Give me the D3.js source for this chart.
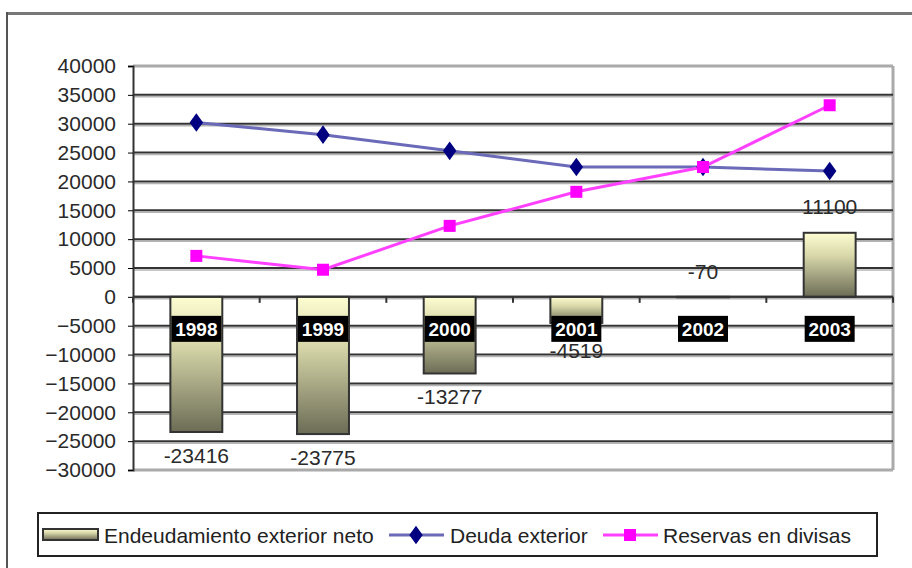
<!DOCTYPE html>
<html lang="es">
<head>
<meta charset="UTF-8">
<title>Endeudamiento exterior</title>
<script src="https://d3js.org/d3.v7.min.js"></script>
<style>
    body { margin: 0; padding: 0; background: #fff; overflow: hidden; }
    svg { display: block; font-family: "Liberation Sans", Arial, sans-serif; }
    .ytick text { font-size: 21px; fill: #2a2a2a; }
    .dlabel { font-size: 21px; fill: #2a2a2a; }
    .yearlbl { font-size: 19px; font-weight: bold; fill: #fff; }
    .legtxt { font-size: 21px; fill: #222; }
</style>
</head>
<body>
<div id="chart"></div>
<script>
    // Datos
    const years = ["1998", "1999", "2000", "2001", "2002", "2003"];
    const endeudamiento = [-23416, -23775, -13277, -4519, -70, 11100];
    const deuda = [30200, 28100, 25300, 22500, 22500, 21800];
    const reservas = [7100, 4700, 12300, 18200, 22500, 33200];
    const yTicks = d3.range(-30000, 40001, 5000);

    const W = 912, H = 568;
    const plot = {left: 133, right: 893, top: 66, bottom: 470};

    const svg = d3.select("#chart").append("svg")
        .attr("width", W).attr("height", H);

    // Gradiente de las barras
    const defs = svg.append("defs");
    const grad = defs.append("linearGradient").attr("id", "barGrad")
        .attr("x1", 0).attr("y1", 0).attr("x2", 0).attr("y2", 1);
    grad.append("stop").attr("offset", "0%").attr("stop-color", "#fdfdd2");
    grad.append("stop").attr("offset", "35%").attr("stop-color", "#d8d8aa");
    grad.append("stop").attr("offset", "100%").attr("stop-color", "#6c6c56");

    // Marco exterior
    svg.append("line").attr("x1", 6).attr("x2", W).attr("y1", 13.5).attr("y2", 13.5)
        .attr("stroke", "#777").attr("stroke-width", 3);
    svg.append("line").attr("x1", 7).attr("x2", 7).attr("y1", 12).attr("y2", H)
        .attr("stroke", "#555").attr("stroke-width", 2);

    // Escalas
    const x = d3.scaleBand().domain(years)
        .range([plot.left, plot.right])
        .paddingInner(0.59).paddingOuter(0.295);
    const y = d3.scaleLinear().domain([-30000, 40000])
        .range([plot.bottom, plot.top]);

    const g = svg.append("g");

    // Borde del área de trazado
    g.append("line").attr("x1", plot.left).attr("x2", plot.right)
        .attr("y1", plot.top).attr("y2", plot.top)
        .attr("stroke", "#aaa").attr("stroke-width", 3);
    g.append("line").attr("x1", plot.right).attr("x2", plot.right)
        .attr("y1", plot.top).attr("y2", plot.bottom)
        .attr("stroke", "#aaa").attr("stroke-width", 3);
    g.append("line").attr("x1", plot.left).attr("x2", plot.right)
        .attr("y1", plot.bottom).attr("y2", plot.bottom)
        .attr("stroke", "#aaa").attr("stroke-width", 3);

    // Cuadrícula
    const gridVals = yTicks.filter(v => v > -30000 && v < 40000);
    g.selectAll(".gshade").data(gridVals).enter().append("line")
        .attr("x1", plot.left).attr("x2", plot.right)
        .attr("y1", d => y(d) + 2).attr("y2", d => y(d) + 2)
        .attr("stroke", "#b4b4b4").attr("stroke-width", 1.5);
    g.selectAll(".gline").data(gridVals).enter().append("line")
        .attr("x1", plot.left).attr("x2", plot.right)
        .attr("y1", d => y(d)).attr("y2", d => y(d))
        .attr("stroke", "#333").attr("stroke-width", 2);

    // Eje Y
    const yAxis = g.append("g")
        .attr("transform", `translate(${plot.left},0)`)
        .call(d3.axisLeft(y).tickValues(yTicks).tickSize(5).tickPadding(12).tickFormat(d3.format("d")));
    yAxis.select(".domain").attr("stroke", "#333").attr("stroke-width", 2);
    yAxis.selectAll(".tick").attr("class", "ytick");
    yAxis.selectAll(".tick line").attr("stroke", "#333").attr("stroke-width", 2);
    yAxis.selectAll(".tick text").attr("font-family", null).attr("font-size", null);

    // Barras
    g.selectAll(".bar").data(endeudamiento).enter().append("rect")
        .attr("x", (d, i) => x(years[i]))
        .attr("y", d => y(Math.max(0, d)))
        .attr("width", x.bandwidth())
        .attr("height", d => Math.abs(y(d) - y(0)))
        .attr("fill", "url(#barGrad)")
        .attr("stroke", "#333").attr("stroke-width", 2);

    // Eje X en cero con marcas entre categorías
    g.append("line").attr("x1", plot.left).attr("x2", plot.right)
        .attr("y1", y(0)).attr("y2", y(0))
        .attr("stroke", "#333").attr("stroke-width", 2);
    const bounds = d3.range(0, years.length + 1).map(i => plot.left + i * x.step());
    g.selectAll(".xtick").data(bounds).enter().append("line")
        .attr("x1", d => d).attr("x2", d => d)
        .attr("y1", y(0)).attr("y2", y(0) + 6)
        .attr("stroke", "#333").attr("stroke-width", 2);

    // Líneas
    const cx = i => x(years[i]) + x.bandwidth() / 2;
    const lineGen = d3.line().x((d, i) => cx(i)).y(d => y(d));

    g.append("path").datum(deuda).attr("d", lineGen)
        .attr("fill", "none").attr("stroke", "#6a6ab8").attr("stroke-width", 3);
    g.append("path").datum(reservas).attr("d", lineGen)
        .attr("fill", "none").attr("stroke", "#ff40ff").attr("stroke-width", 3);

    const diamond = d3.symbol().type(d3.symbolDiamond).size(100);
    g.selectAll(".dm").data(deuda).enter().append("path")
        .attr("d", diamond)
        .attr("transform", (d, i) => `translate(${cx(i)},${y(d)}) scale(1.25,1)`)
        .attr("fill", "#000080");
    g.selectAll(".sq").data(reservas).enter().append("rect")
        .attr("x", (d, i) => cx(i) - 6).attr("y", d => y(d) - 6)
        .attr("width", 12).attr("height", 12)
        .attr("fill", "#ff00ff");

    // Etiquetas de año
    const yearY = y(0) + 32;
    const yl = g.selectAll(".yl").data(years).enter().append("g")
        .attr("transform", d => `translate(${x(d) + x.bandwidth() / 2},${yearY})`);
    yl.append("rect").attr("x", -25).attr("y", -13).attr("width", 50).attr("height", 26)
        .attr("fill", "#000");
    yl.append("text").attr("class", "yearlbl").attr("text-anchor", "middle")
        .attr("dy", "0.36em").text(d => d);

    // Etiquetas de datos (justo debajo de la etiqueta de año si se solapan)
    g.selectAll(".dlabel").data(endeudamiento).enter().append("text")
        .attr("class", "dlabel").attr("text-anchor", "middle")
        .attr("x", (d, i) => cx(i))
        .attr("y", d => {
            if (Math.abs(d) < 1000) return y(0) - 25;
            if (d > 0) return y(d) - 26;
            return Math.max(y(d) + 23, yearY + 22);
        })
        .attr("dy", "0.36em")
        .text(d => d);

    // Leyenda
    const leg = svg.append("g");
    leg.append("rect").attr("x", 38).attr("y", 513).attr("width", 839).attr("height", 43)
        .attr("fill", "#fff").attr("stroke", "#222").attr("stroke-width", 2);
    const ly = 535;
    leg.append("rect").attr("x", 43).attr("y", ly - 6).attr("width", 55).attr("height", 11)
        .attr("fill", "url(#barGrad)").attr("stroke", "#333").attr("stroke-width", 2);
    leg.append("text").attr("class", "legtxt").attr("x", 104).attr("y", ly).attr("dy", "0.36em")
        .text("Endeudamiento exterior neto");

    leg.append("line").attr("x1", 389).attr("x2", 444).attr("y1", ly).attr("y2", ly)
        .attr("stroke", "#6a6ab8").attr("stroke-width", 3);
    leg.append("path").attr("d", diamond).attr("transform", `translate(416,${ly}) scale(1.25,1)`)
        .attr("fill", "#000080");
    leg.append("text").attr("class", "legtxt").attr("x", 450).attr("y", ly).attr("dy", "0.36em")
        .text("Deuda exterior");

    leg.append("line").attr("x1", 603).attr("x2", 658).attr("y1", ly).attr("y2", ly)
        .attr("stroke", "#ff40ff").attr("stroke-width", 3);
    leg.append("rect").attr("x", 624).attr("y", ly - 6).attr("width", 12).attr("height", 12)
        .attr("fill", "#ff00ff");
    leg.append("text").attr("class", "legtxt").attr("x", 663).attr("y", ly).attr("dy", "0.36em")
        .text("Reservas en divisas");
</script>
</body>
</html>
